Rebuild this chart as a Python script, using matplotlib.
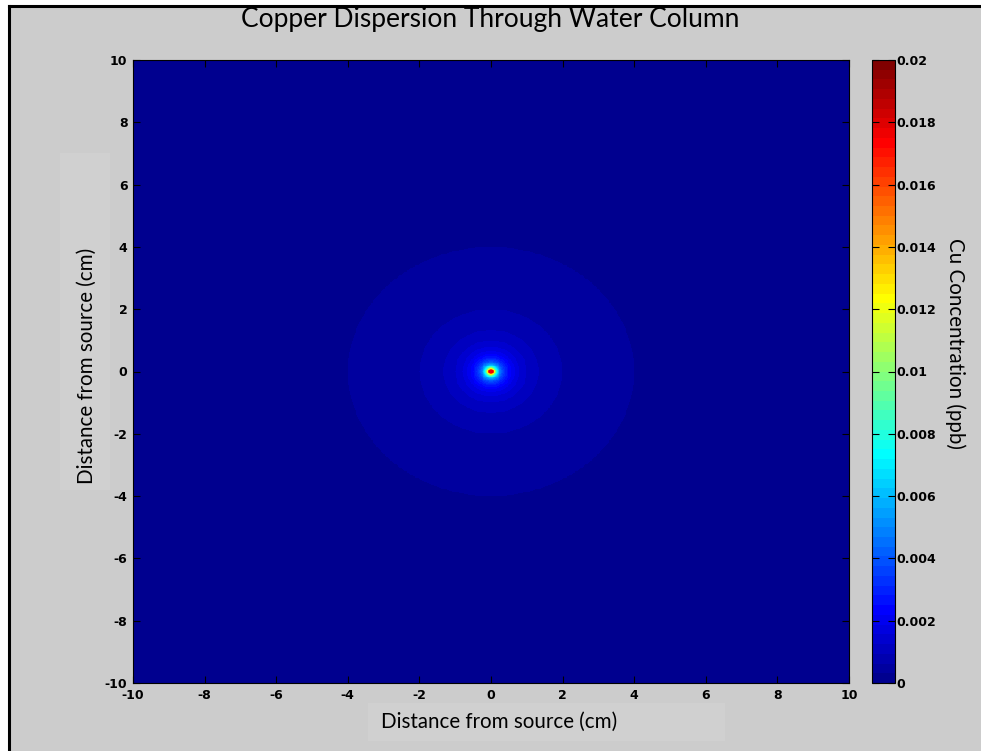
import numpy as np
import matplotlib
matplotlib.use("Agg")
import matplotlib.pyplot as plt
from matplotlib.colors import ListedColormap, Normalize
from matplotlib.patches import Rectangle
from matplotlib.lines import Line2D

# values
x_range = [-10, 10]
y_range = [-10, 10]
ticks = [-10, -8, -6, -4, -2, 0, 2, 4, 6, 8, 10]
cbar_ticks = [0, 0.002, 0.004, 0.006, 0.008, 0.01, 0.012, 0.014, 0.016, 0.018, 0.02]
cbar_labels = ["0", "0.002", "0.004", "0.006", "0.008", "0.01", "0.012", "0.014", "0.016", "0.018", "0.02"]
c_min, c_max = 0.0, 0.02
# first colour step (0.02/64) is crossed at r = 4 cm -> c = k / r
source_k = 0.00125
core_radius = 0.071   # centre cell stays red, not dark red
grid_step = 0.025

title = "Copper Dispersion Through Water Column"
xlabel = "Distance from source (cm)"
ylabel = "Distance from source (cm)"
cbar_title = "Cu Concentration (ppb)"

# MATLAB jet(64)
m = 64
n = 16
u = np.concatenate([np.arange(1, n + 1) / n, np.ones(n - 1), np.arange(n, 0, -1) / n])
g = n // 2 + np.arange(1, len(u) + 1)
r_idx = g + n
b_idx = g - n
rgb = np.zeros((m, 3))
for ch, idx in ((0, r_idx), (1, g), (2, b_idx)):
    ok = (idx >= 1) & (idx <= m)
    rgb[idx[ok] - 1, ch] = u[ok]
jet64 = ListedColormap(rgb)

# concentration field
xs = np.arange(x_range[0], x_range[1] + grid_step / 2, grid_step)
ys = np.arange(y_range[0], y_range[1] + grid_step / 2, grid_step)
X, Y = np.meshgrid(xs, ys)
R = np.hypot(X, Y)
C = source_k / np.maximum(R, core_radius)

bg = "#cccccc"
W, H = 981, 751
fig = plt.figure(figsize=(W / 100, H / 100), dpi=100, facecolor="white")
fig.patches.append(Rectangle((9 / W, 0), 1, 1 - 6 / H, transform=fig.transFigure,
                             facecolor=bg, edgecolor="none", zorder=-10))
# black frame only on the left and top
fig.add_artist(Line2D([9 / W, 9 / W], [0, 1 - 6 / H], transform=fig.transFigure,
                      color="black", lw=2.2))
fig.add_artist(Line2D([9 / W, 1], [1 - 6 / H, 1 - 6 / H], transform=fig.transFigure,
                      color="black", lw=2.2))
# faint text boxes behind axis labels
fig.patches.append(Rectangle((60 / W, 1 - 490 / H), 50 / W, 337 / H, transform=fig.transFigure,
                             facecolor="#d0d0d0", edgecolor="none", zorder=-9))
fig.patches.append(Rectangle((368 / W, 1 - 741 / H), 357 / W, 38 / H, transform=fig.transFigure,
                             facecolor="#d0d0d0", edgecolor="none", zorder=-9))

ax = fig.add_axes([133 / W, 68 / H, 716 / W, 623 / H])
im = ax.imshow(C, cmap=jet64, norm=Normalize(c_min, c_max), origin="lower",
               extent=[x_range[0], x_range[1], y_range[0], y_range[1]],
               aspect="auto", interpolation="nearest")
ax.set_xlim(x_range)
ax.set_ylim(y_range)
ax.set_xticks(ticks)
ax.set_yticks(ticks)
ax.set_xticklabels([str(t) for t in ticks])
ax.set_yticklabels([str(t) for t in ticks])
tick_font = dict(family=["Liberation Sans Narrow", "DejaVu Sans"], weight="bold", size=9)
for lab in ax.get_xticklabels() + ax.get_yticklabels():
    lab.set(**tick_font)
ax.tick_params(direction="in", length=5, width=0.8, top=True, right=True, pad=4)
for s in ax.spines.values():
    s.set_linewidth(0.8)

fig.text(490 / W, 1 - 19 / H, title, ha="center", va="center", family="Lato", fontsize=19)
fig.text(87 / W, 1 - 366 / H, ylabel, rotation=90, ha="center", va="center",
         family="Lato", fontsize=14.8)
fig.text(499 / W, 1 - 722 / H, xlabel, ha="center", va="center",
         family="Lato", fontsize=14.8)

cax = fig.add_axes([872 / W, 68 / H, 23 / W, 623 / H])
cb = fig.colorbar(im, cax=cax, ticks=cbar_ticks)
cb.ax.set_yticklabels(cbar_labels)
for lab in cb.ax.get_yticklabels():
    lab.set(**tick_font)
cb.ax.tick_params(direction="in", length=5, width=0.8, left=True, right=True, pad=1)
cb.outline.set_linewidth(0.8)
fig.text(955 / W, 1 - 343 / H, cbar_title, rotation=270, ha="center", va="center",
         family="Lato", fontsize=14.8)

fig.savefig("out.png", dpi=100, facecolor=fig.get_facecolor())
